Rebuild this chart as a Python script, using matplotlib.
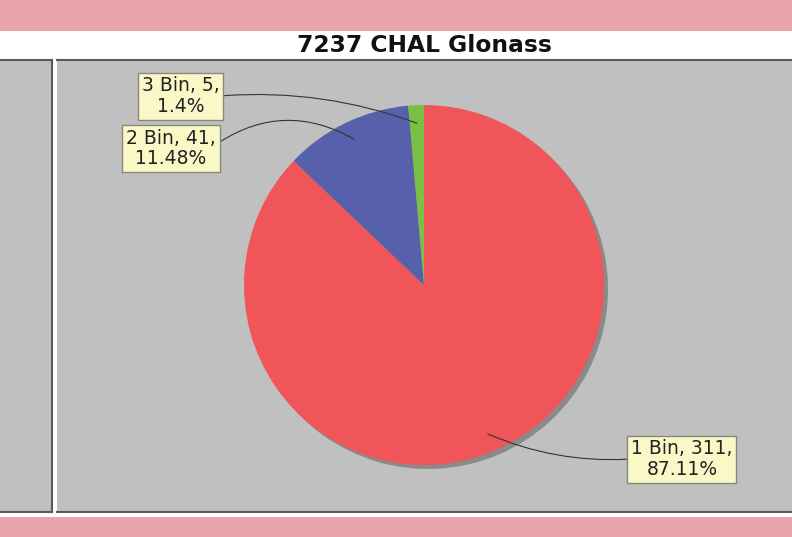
# Pie chart of bin counts for 7237 CHAL Glonass

import numpy as np
import matplotlib.pyplot as plt
from matplotlib.patches import Rectangle

# Data
categories = ["1 Bin", "2 Bin", "3 Bin"]
counts = [311, 41, 5]
percents = ["87.11%", "11.48%", "1.4%"]
colors = ["#F05559", "#5660AB", "#7CC043"]

W, H = 792, 537
fig = plt.figure(figsize=(W / 100, H / 100), dpi=100)
fig.patch.set_facecolor("white")

# pink bands top and bottom
fig.patches.append(Rectangle((0, 1 - 31 / H), 1, 31 / H, transform=fig.transFigure,
                             facecolor="#E8A5AA", edgecolor="none"))
fig.patches.append(Rectangle((0, 0), 1, 20 / H, transform=fig.transFigure,
                             facecolor="#E8A5AA", edgecolor="none"))

fig.text(424 / W, 1 - 46 / H, "7237 CHAL Glonass", ha="center", va="center",
         fontsize=16.8, fontweight="bold", color="#111111")

top, bot = 60, 512
# left (empty) panel
axl = fig.add_axes([0, 1 - bot / H, 52 / W, (bot - top) / H])
axl.set_facecolor("#C0C0C0")
axl.set_xticks([])
axl.set_yticks([])
axl.spines["left"].set_visible(False)
for s in ["right", "bottom", "top"]:
    axl.spines[s].set_color("#5a5a5a")
    axl.spines[s].set_linewidth(1.5)

# main panel in pixel units
x0 = 57
ax = fig.add_axes([x0 / W, 1 - bot / H, (W - x0) / W, (bot - top) / H])
ax.set_facecolor("#C0C0C0")
for s in ["left", "right"]:
    ax.spines[s].set_visible(False)
for s in ["top", "bottom"]:
    ax.spines[s].set_color("#5a5a5a")
    ax.spines[s].set_linewidth(1.5)

cx, cy, R = 424, H - 285, 180

# shadow
ax.pie(counts, startangle=90, counterclock=False, radius=R, center=(cx + 4, cy - 4),
       colors=["#8a8a8a"] * 3, frame=True, wedgeprops=dict(linewidth=0))
wedges, _ = ax.pie(counts, startangle=90, counterclock=False, radius=R,
                   center=(cx, cy), colors=colors, frame=True,
                   wedgeprops=dict(linewidth=0))

ax.set_xlim(x0, W)
ax.set_ylim(H - bot, H - top)
ax.set_aspect("auto")
ax.set_xticks([])
ax.set_yticks([])

# label box centres, where the connector leaves the box, curvature
label_pos = [(682, 459), (171, 148.5), (180.5, 96)]
relpos = [(0, 0.5), (1, 0.6), (1, 0.5)]
rads = [-0.12, -0.31, -0.11]
for w, cat, n, pct, (lx, ly), rp, rad in zip(wedges, categories, counts, percents,
                                             label_pos, relpos, rads):
    mid = np.deg2rad((w.theta1 + w.theta2) / 2)
    px = cx + 0.9 * R * np.cos(mid)
    py = cy + 0.9 * R * np.sin(mid)
    ax.annotate(f"{cat}, {n},\n{pct}", xy=(px, py), xytext=(lx, H - ly),
                ha="center", va="center", multialignment="center",
                fontsize=13.5, color="#222222", linespacing=1.1,
                bbox=dict(boxstyle="square,pad=0.2", facecolor="#FBF8C8",
                          edgecolor="#888877", linewidth=1),
                arrowprops=dict(arrowstyle="-", color="#333333", linewidth=0.8,
                                connectionstyle=f"arc3,rad={rad}", relpos=rp,
                                shrinkA=0, shrinkB=0))

fig.savefig("out.png", dpi=100)
